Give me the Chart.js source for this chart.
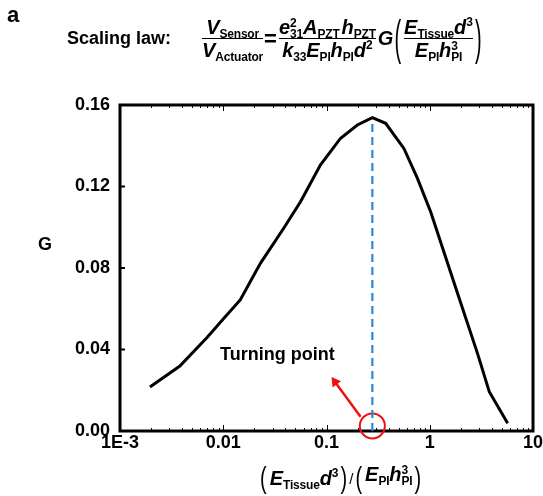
<!DOCTYPE html>
<html>
<head>
<meta charset="utf-8">
<script src="https://cdn.jsdelivr.net/npm/chart.js@4.4.0/dist/chart.umd.min.js"></script>
<style>
  html, body { margin: 0; padding: 0; background: #fff; }
  #wrap { position: relative; width: 543px; height: 496px; font-family: 'Liberation Sans', Arial, sans-serif; color: #000; }
  #myChart { position: absolute; left: 0; top: 0; }
  .lbl { position: absolute; font-weight: bold; white-space: nowrap; }
  .row { position: absolute; display: flex; align-items: center; white-space: nowrap; }
  .frac { display: flex; flex-direction: column; align-items: center; font-weight: bold; font-style: italic; font-size: 20px; padding: 0 1px; }
  .frac > div { line-height: 22px; height: 22px; white-space: nowrap; }
  .frac > .bar { height: 0; border-top: 1.5px solid #000; align-self: stretch; }
  .sb { font-size: 12px; font-style: normal; position: relative; top: 4px; letter-spacing: -0.2px; }
  .sp { font-size: 12px; font-style: normal; position: relative; top: -8px; }
  .ss { display: inline-flex; flex-direction: column; font-size: 12px; font-style: normal; line-height: 11px; position: relative; top: -7px; vertical-align: baseline; letter-spacing: -0.2px; }
  .par { display: inline-block; font-size: 20px; font-weight: normal; font-style: normal; }
  .it { font-weight: bold; font-style: italic; font-size: 20px; }
</style>
</head>
<body>
<div id="wrap">
  <canvas id="myChart" width="543" height="496"></canvas>

  <div class="lbl" style="left:7px;top:2px;font-size:22px;">a</div>
  <div class="lbl" style="left:67px;top:28px;font-size:18px;">Scaling law:</div>

  <div class="row" style="left:201px;top:16px;height:45px;">
    <div class="frac">
      <div>V<span class="sb">Sensor</span></div>
      <div class="bar"></div>
      <div>V<span class="sb">Actuator</span></div>
    </div>
    <div style="font-size:22px;font-weight:bold;margin:0 1px 0 0;">=</div>
    <div class="frac">
      <div>e<span class="ss"><span>2</span><span>31</span></span>A<span class="sb">PZT</span><span style="margin-left:2px;">h</span><span class="sb">PZT</span></div>
      <div class="bar"></div>
      <div>k<span class="sb">33</span>E<span class="sb">PI</span>h<span class="sb">PI</span>d<span class="sp">2</span></div>
    </div>
    <div class="it" style="margin-left:1px;">G</div>
    <div class="par" style="transform:scale(1,2.4);margin:0 1px 0 1px;">(</div>
    <div class="frac" style="padding:0 2px;">
      <div>E<span class="sb">Tissue</span>d<span class="sp">3</span></div>
      <div class="bar"></div>
      <div>E<span class="sb">PI</span>h<span class="ss"><span>3</span><span>PI</span></span></div>
    </div>
    <div class="par" style="transform:scale(1,2.4);margin-left:0px;">)</div>
  </div>

  <div class="row" style="left:260px;top:464px;height:28px;">
    <span class="par" style="transform:scale(1,1.45);margin-right:3px;">(</span>
    <span class="it">E<span class="sb">Tissue</span>d<span class="sp">3</span></span>
    <span class="par" style="transform:scale(1,1.45);margin-left:2px;">)</span>
    <span class="par" style="font-size:15px;margin:0 2px;">/</span>
    <span class="par" style="transform:scale(1,1.45);margin-right:3px;">(</span>
    <span class="it">E<span class="sb">PI</span>h<span class="ss"><span>3</span><span>PI</span></span></span>
    <span class="par" style="transform:scale(1,1.45);margin-left:2px;">)</span>
  </div>
</div>

<script>
// G vs (E_Tissue d^3)/(E_PI h_PI^3)
const ratio = [0.00195, 0.0038, 0.007, 0.01, 0.0146, 0.0229, 0.0385, 0.056, 0.0875, 0.137, 0.199, 0.278, 0.374, 0.562, 0.76, 1.02, 1.49, 2.0, 2.9, 3.77, 5.68];
const gValues = [0.0216, 0.0319, 0.046, 0.055, 0.0643, 0.0823, 0.0995, 0.1125, 0.1306, 0.1437, 0.1502, 0.1538, 0.151, 0.1387, 0.124, 0.1076, 0.0823, 0.0627, 0.0381, 0.0193, 0.0038];

const xTickValues = [0.001, 0.01, 0.1, 1, 10];
const xTickLabels = ['1E-3', '0.01', '0.1', '1', '10'];
const yTickValues = [0, 0.04, 0.08, 0.12, 0.16];
const yTickLabels = ['0.00', '0.04', '0.08', '0.12', '0.16'];

// turning point marker + annotation
const turnX = [0.278, 0.278];
const turnY = [0, 0.1538];
const circleAt = [0.278, 0.0025];
const arrowX = [0.2138, 0.121];
const arrowY = [0.007, 0.0241];
const noteAt = [0.0334, 0.0373];
const noteText = 'Turning point';

const FONT = "'Liberation Sans', Arial, sans-serif";

const framePlugin = {
  id: 'frame',
  beforeDatasetsDraw(chart) {
    const { ctx, chartArea: a, scales } = chart;
    ctx.save();
    ctx.strokeStyle = '#000';
    // minor/major ticks on log axis, top and bottom, inward
    ctx.lineWidth = 1;
    for (let d = -3; d < 1; d++) {
      for (let m = 1; m < 10; m++) {
        const px = Math.round(scales.x.getPixelForValue(m * Math.pow(10, d))) + 0.5;
        const len = m === 1 ? 6 : 3;
        ctx.beginPath();
        ctx.moveTo(px, a.bottom); ctx.lineTo(px, a.bottom - len);
        ctx.moveTo(px, a.top); ctx.lineTo(px, a.top + len);
        ctx.stroke();
      }
    }
    ctx.lineWidth = 2;
    yTickValues.forEach(v => {
      const py = scales.y.getPixelForValue(v);
      ctx.beginPath();
      ctx.moveTo(a.left, py); ctx.lineTo(a.left + 5, py);
      ctx.stroke();
    });
    ctx.lineWidth = 3;
    ctx.strokeRect(a.left, a.top, a.right - a.left, a.bottom - a.top);
    ctx.restore();
  },
  afterDraw(chart) {
    const { ctx, scales } = chart;
    ctx.save();
    ctx.fillStyle = '#000';
    ctx.font = 'bold 18px ' + FONT;
    ctx.textAlign = 'center';
    ctx.textBaseline = 'middle';
    ctx.fillText(noteText, scales.x.getPixelForValue(noteAt[0]), scales.y.getPixelForValue(noteAt[1]));
    ctx.fillText('G', 45, scales.y.getPixelForValue(0.0913));
    ctx.restore();
  }
};

const ctx = document.getElementById('myChart').getContext('2d');

// eslint-disable-next-line no-undef, no-unused-vars
const chart = new Chart(ctx, {
  type: 'line',
  data: {
    datasets: [
      {
        label: 'G',
        data: ratio.map((r, i) => ({ x: r, y: gValues[i] })),
        borderColor: '#000',
        borderWidth: 3,
        pointRadius: 0,
        tension: 0,
      },
      {
        label: 'turn',
        data: turnX.map((r, i) => ({ x: r, y: turnY[i] })),
        borderColor: '#2a88d8',
        borderWidth: 2.2,
        borderDash: [8, 5],
        pointRadius: 0,
      },
      {
        label: 'arrow',
        data: arrowX.map((r, i) => ({ x: r, y: arrowY[i] })),
        borderColor: '#f01010',
        backgroundColor: '#f01010',
        borderWidth: 2.5,
        pointRadius: [0, 6],
        pointStyle: 'triangle',
        pointRotation: -36,
        pointBorderWidth: 0,
        clip: false,
      },
      {
        label: 'circle',
        data: [{ x: circleAt[0], y: circleAt[1] }],
        borderColor: '#f01010',
        backgroundColor: 'rgba(0,0,0,0)',
        borderWidth: 2,
        pointRadius: 12.5,
        pointStyle: 'circle',
        showLine: false,
        clip: false,
      },
    ],
  },
  options: {
    responsive: false,
    animation: false,
    layout: { autoPadding: false, padding: { top: 105, right: 10, bottom: 0, left: 0 } },
    plugins: { legend: { display: false }, tooltip: { enabled: false }, title: { display: false } },
    scales: {
      x: {
        type: 'logarithmic',
        min: 0.001,
        max: 10,
        afterBuildTicks: s => { s.ticks = xTickValues.map(v => ({ value: v })); },
        afterFit: s => { s.height = 65; s.paddingRight = 0; s.paddingLeft = 0; },
        grid: { display: false, drawTicks: false },
        border: { display: false },
        ticks: {
          color: '#000',
          padding: 1,
          maxRotation: 0,
          autoSkip: false,
          font: { family: FONT, size: 18, weight: 'bold' },
          callback: (v, i) => xTickLabels[i],
        },
      },
      y: {
        min: 0,
        max: 0.16,
        afterBuildTicks: s => { s.ticks = yTickValues.map(v => ({ value: v })); },
        afterFit: s => { s.width = 120; },
        grid: { display: false, drawTicks: false },
        border: { display: false },
        ticks: {
          color: '#000',
          padding: 10,
          font: { family: FONT, size: 18, weight: 'bold' },
          callback: (v, i) => yTickLabels[i],
        },
      },
    },
  },
  plugins: [framePlugin],
});
</script>
</body>
</html>
